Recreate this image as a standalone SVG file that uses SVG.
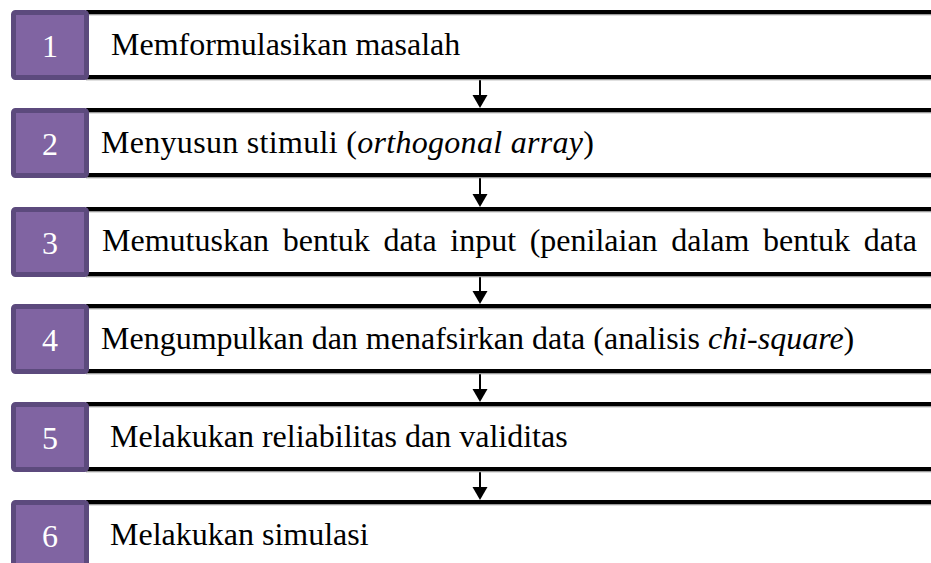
<svg xmlns="http://www.w3.org/2000/svg" width="931" height="563" viewBox="0 0 931 563">
<defs>
<style>
.bar{fill:#000}
.sh{fill:#9a9a9a}
.num{fill:#8064A2;stroke:#5C4A7D;stroke-width:5}
.nt{font-family:"Liberation Serif","Times New Roman",serif;font-size:32px;fill:#fff;text-anchor:middle}
.lt{font-family:"Liberation Serif","Times New Roman",serif;font-size:32px;fill:#000}
.arr{stroke:#000;stroke-width:2;fill:none}
</style>
</defs>
<rect width="931" height="563" fill="#fff"/>

<g id="connectors">
<line class="arr" x1="480" y1="80" x2="480" y2="95"/><path d="M472.5,95 L487.5,95 L480,108 Z"/>
<line class="arr" x1="480" y1="178" x2="480" y2="194"/><path d="M472.5,194 L487.5,194 L480,207 Z"/>
<line class="arr" x1="480" y1="277" x2="480" y2="291"/><path d="M472.5,291 L487.5,291 L480,304 Z"/>
<line class="arr" x1="480" y1="374" x2="480" y2="389"/><path d="M472.5,389 L487.5,389 L480,402 Z"/>
<line class="arr" x1="480" y1="472" x2="480" y2="487"/><path d="M472.5,487 L487.5,487 L480,500 Z"/>
</g>

<g id="node1">
<rect class="bar" x="86" y="10" width="845" height="4"/><rect class="sh" x="86" y="14" width="845" height="1.3"/>
<rect class="bar" x="86" y="75" width="845" height="4"/><rect class="sh" x="86" y="79" width="845" height="1.3"/>
<rect class="num" x="13.5" y="12.5" width="73" height="65" rx="2"/>
<text class="nt" x="50" y="57">1</text>
<text class="lt" x="111" y="55">Memformulasikan masalah</text>
</g>

<g id="node2">
<rect class="bar" x="86" y="108" width="845" height="4"/><rect class="sh" x="86" y="112" width="845" height="1.3"/>
<rect class="bar" x="86" y="173" width="845" height="4"/><rect class="sh" x="86" y="177" width="845" height="1.3"/>
<rect class="num" x="13.5" y="110.5" width="73" height="65" rx="2"/>
<text class="nt" x="50" y="155">2</text>
<text class="lt" x="101" y="153" textLength="493" lengthAdjust="spacing">Menyusun stimuli (<tspan font-style="italic">orthogonal array</tspan>)</text>
</g>

<g id="node3">
<rect class="bar" x="86" y="207" width="845" height="4"/><rect class="sh" x="86" y="211" width="845" height="1.3"/>
<rect class="bar" x="86" y="272" width="845" height="4"/><rect class="sh" x="86" y="276" width="845" height="1.3"/>
<rect class="num" x="13.5" y="209.5" width="73" height="65" rx="2"/>
<text class="nt" x="50" y="254">3</text>
<text class="lt" x="102" y="251" word-spacing="5.6">Memutuskan bentuk data input (penilaian dalam bentuk data</text>
</g>

<g id="node4">
<rect class="bar" x="86" y="304" width="845" height="4"/><rect class="sh" x="86" y="308" width="845" height="1.3"/>
<rect class="bar" x="86" y="369" width="845" height="4"/><rect class="sh" x="86" y="373" width="845" height="1.3"/>
<rect class="num" x="13.5" y="306.5" width="73" height="65" rx="2"/>
<text class="nt" x="50" y="351">4</text>
<text class="lt" x="101" y="349">Mengumpulkan dan menafsirkan data (analisis <tspan font-style="italic">chi-square</tspan>)</text>
</g>

<g id="node5">
<rect class="bar" x="86" y="402" width="845" height="4"/><rect class="sh" x="86" y="406" width="845" height="1.3"/>
<rect class="bar" x="86" y="467" width="845" height="4"/><rect class="sh" x="86" y="471" width="845" height="1.3"/>
<rect class="num" x="13.5" y="404.5" width="73" height="65" rx="2"/>
<text class="nt" x="50" y="449">5</text>
<text class="lt" x="110" y="447">Melakukan reliabilitas dan validitas</text>
</g>

<g id="node6">
<rect class="bar" x="86" y="500" width="845" height="4"/><rect class="sh" x="86" y="504" width="845" height="1.3"/>
<rect class="num" x="13.5" y="502.5" width="73" height="65" rx="2"/>
<text class="nt" x="50" y="547">6</text>
<text class="lt" x="110" y="545">Melakukan simulasi</text>
</g>
</svg>
